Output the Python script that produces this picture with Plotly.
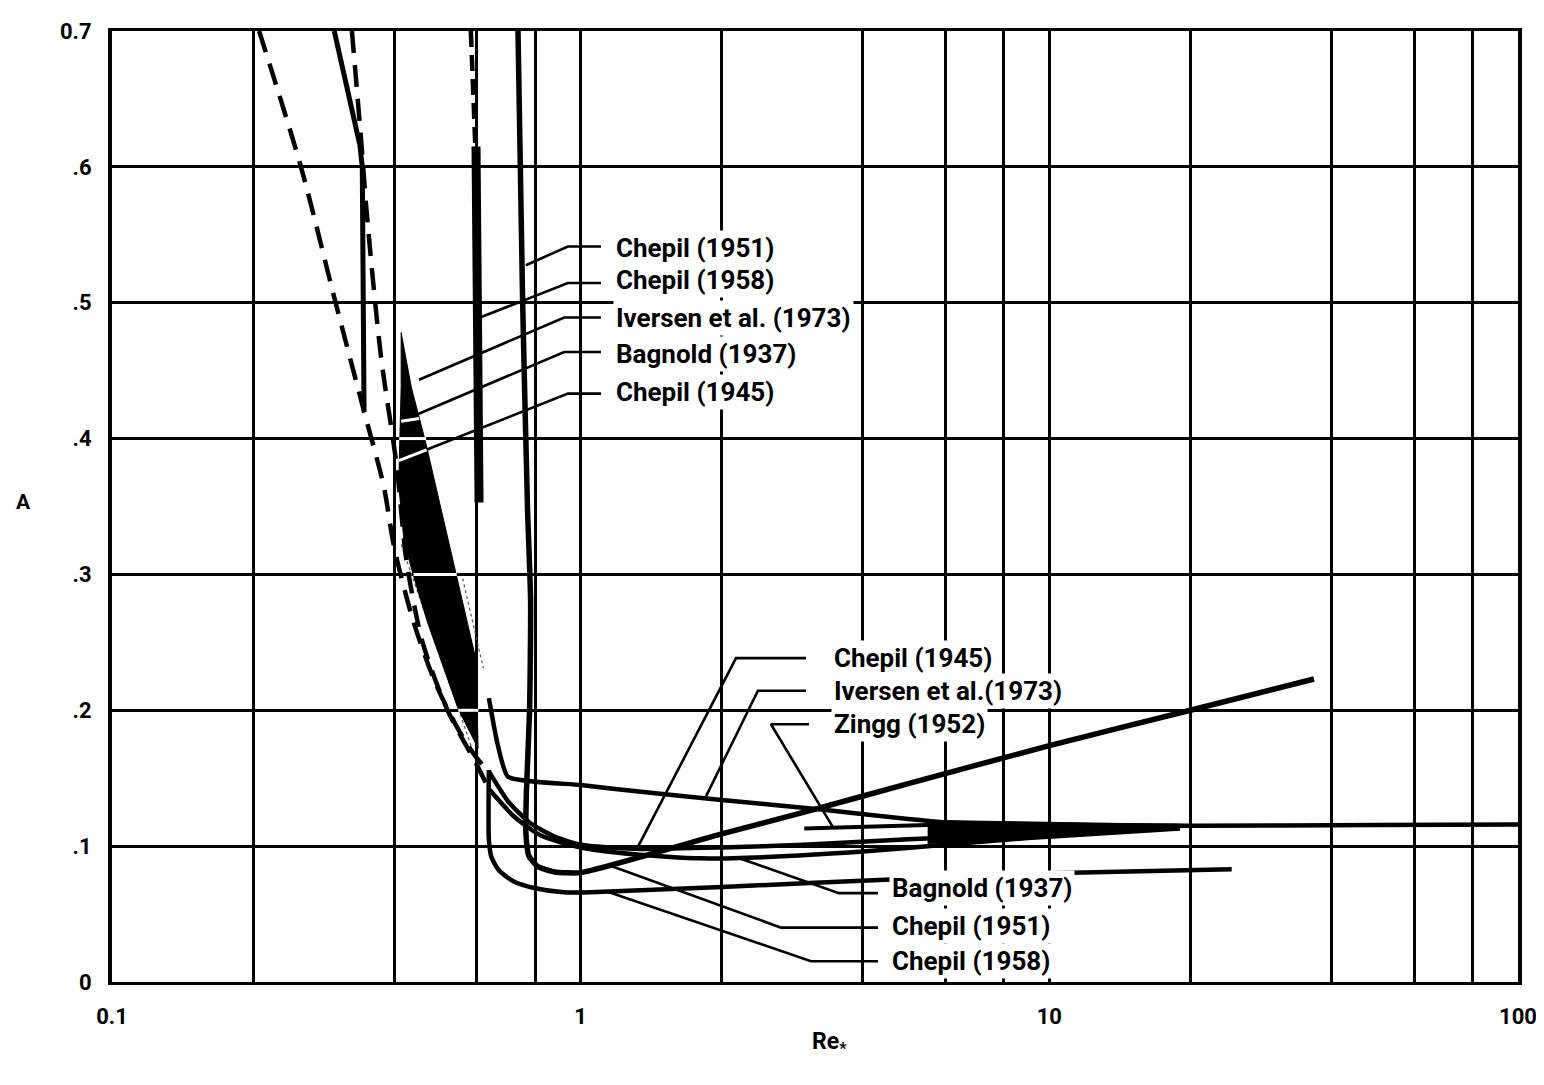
import math
import plotly.graph_objects as go

# ---------------- data ----------------
x_major = [0.1, 1, 10, 100]
x_major_text = ["0.1", "1", "10", "100"]
x_minor = [0.2, 0.4, 0.6, 0.8, 2, 4, 6, 8, 20, 40, 60, 80]
y_tickvals = [0, 0.1, 0.2, 0.3, 0.4, 0.5, 0.6, 0.7]
y_ticktext = ["0", ".1", ".2", ".3", ".4", ".5", ".6", "0.7"]

# Chepil (1945): dashed extrapolation + solid curve
chepil45_dash_x = [0.206, 0.253, 0.30, 0.345, 0.38, 0.40, 0.44, 0.49, 0.55, 0.60, 0.637]
chepil45_dash_y = [0.70, 0.60, 0.50, 0.42, 0.365, 0.32, 0.265, 0.22, 0.185, 0.165, 0.155]
chepil45_x = [0.637, 0.70, 0.78, 0.88, 1.0, 1.3, 2.0, 3.0, 5.0, 8.0, 12, 19]
chepil45_y = [0.155, 0.133, 0.117, 0.107, 0.101, 0.098, 0.099, 0.101, 0.105, 0.108, 0.111, 0.114]

# Bagnold (1937): dashed extrapolation + solid curve
bagnold_dash_x = [0.325, 0.34, 0.35, 0.375, 0.405, 0.425, 0.46, 0.52, 0.60, 0.637]
bagnold_dash_y = [0.70, 0.62, 0.564, 0.46, 0.38, 0.31, 0.25, 0.20, 0.16, 0.142]
bagnold_x = [0.637, 0.72, 0.82, 1.0, 1.3, 1.8, 2.5, 4.0, 6.0, 9.0, 19]
bagnold_y = [0.142, 0.122, 0.108, 0.099, 0.094, 0.091, 0.092, 0.096, 0.101, 0.106, 0.113]

# steep solid segment near Re* = 0.3
steep_x = [0.298, 0.338, 0.342, 0.345]
steep_y = [0.70, 0.616, 0.60, 0.42]

# Chepil (1951)
chepil51_x = [0.735, 0.752, 0.77, 0.782, 0.778, 0.766, 0.764, 0.775, 0.81, 0.88, 1.0,
              2.0, 3.0, 5.0, 10, 20, 36.7]
chepil51_y = [0.70, 0.50, 0.35, 0.28, 0.20, 0.14, 0.11, 0.093, 0.085, 0.081, 0.0805,
              0.109, 0.125, 0.146, 0.174, 0.200, 0.223]

# Chepil (1958)
chepil58_dash_x = [0.583, 0.596]
chepil58_dash_y = [0.70, 0.615]
chepil58_bar_x = [0.598, 0.607]
chepil58_bar_y = [0.615, 0.353]
chepil58_x = [0.637, 0.637, 0.645, 0.67, 0.72, 0.80, 0.92, 1.05, 2.0, 5.0, 10, 24.5]
chepil58_y = [0.156, 0.105, 0.092, 0.082, 0.074, 0.069, 0.066, 0.066, 0.070, 0.076, 0.080, 0.083]

# Iversen et al. (1973): shaded wedge + curve
iversen_wedge_x = [0.414, 0.435, 0.467, 0.542, 0.598, 0.604, 0.548, 0.472, 0.445, 0.420, 0.409, 0.414, 0.414]
iversen_wedge_y = [0.478, 0.438, 0.397, 0.300, 0.237, 0.172, 0.201, 0.264, 0.293, 0.324, 0.366, 0.438, 0.478]
iversen_x = [0.637, 0.665, 0.70, 1.0, 1.345, 2.0, 3.26, 5.0, 6.2, 8.0, 10, 20, 50, 100]
iversen_y = [0.209, 0.175, 0.151, 0.145, 0.140, 0.134, 0.127, 0.120, 0.117, 0.116, 0.1155, 0.115, 0.1155, 0.116]

# Zingg (1952)
zingg_x = [3.0, 4.5, 6.0, 9.0, 13, 19]
zingg_y = [0.113, 0.115, 0.116, 0.116, 0.115, 0.115]

# converging band of curves
band_x = [5.5, 8.0, 12, 19, 19, 12, 8.0, 5.5]
band_y = [0.119, 0.118, 0.117, 0.116, 0.113, 0.108, 0.104, 0.102]

# faint thin lines
thin1_x = [0.414, 0.60]
thin1_y = [0.322, 0.162]
thin2_x = [0.56, 0.62]
thin2_y = [0.297, 0.231]

# labels and leader lines
upper_labels = ["Chepil (1951)", "Chepil (1958)", "Iversen et al. (1973)", "Bagnold (1937)", "Chepil (1945)"]
upper_label_y = [0.540, 0.5167, 0.489, 0.462, 0.4346]
upper_label_x = 1.172
upper_leaders = [
    ([1.105, 0.939, 0.764], [0.5414, 0.5414, 0.5276]),
    ([1.105, 0.939, 0.61], [0.5145, 0.5145, 0.4891]),
    ([1.105, 0.922, 0.452], [0.4891, 0.4891, 0.4433]),
    ([1.105, 0.922, 0.414], [0.4637, 0.4637, 0.4128]),
    ([1.105, 0.939, 0.409], [0.4331, 0.4331, 0.3837]),
]
white_leader_parts = [
    ([0.452, 0.414], [0.4147, 0.4128]),
    ([0.469, 0.409], [0.3917, 0.3837]),
]
wedge_grid_cuts = [([0.41, 0.468], [0.4, 0.4]), ([0.44, 0.544], [0.3, 0.3]), ([0.548, 0.605], [0.2, 0.2])]

mid_labels = ["Chepil (1945)", "Iversen et al.(1973)", "Zingg (1952)"]
mid_label_y = [0.2384, 0.2144, 0.1897]
mid_label_x = 3.42
mid_leaders = [
    ([3.025, 2.145, 1.319], [0.2384, 0.2384, 0.0981]),
    ([3.025, 2.389, 1.851], [0.2144, 0.2144, 0.1366]),
    ([3.07, 2.547, 3.453], [0.1897, 0.1897, 0.114]),
]

low_labels = ["Bagnold (1937)", "Chepil (1951)", "Chepil (1958)"]
low_label_y = [0.069, 0.0414, 0.0153]
low_label_x = 4.55
low_leaders = [
    ([4.31, 3.557, 2.165], [0.0654, 0.0654, 0.0915]),
    ([4.31, 2.676, 1.15], [0.040, 0.040, 0.086]),
    ([4.31, 3.10, 1.13], [0.0153, 0.0153, 0.067]),
]

# ---------------- figure ----------------
FONT = "Roboto, Arial, sans-serif"
fig = go.Figure()


def add(x, y, width=4.5, dash="solid", color="black", shape="linear", smoothing=0.8, fill=None):
    kw = dict(x=x, y=y, mode="lines", showlegend=False, hoverinfo="skip",
              line=dict(color=color, width=width, dash=dash, shape=shape))
    if shape == "spline":
        kw["line"]["smoothing"] = smoothing
    if fill:
        kw["fill"] = fill
        kw["fillcolor"] = color
    fig.add_trace(go.Scatter(**kw))


add(thin1_x, thin1_y, width=1.2, dash="dot", color="#555")
add(thin2_x, thin2_y, width=1.2, dash="dot", color="#555")

add(iversen_wedge_x, iversen_wedge_y, width=1, fill="toself")
for cx, cy in wedge_grid_cuts:
    add(cx, cy, width=3, color="white")

add(chepil45_dash_x, chepil45_dash_y, width=4.5, dash="22px,12px", shape="spline")
add(bagnold_dash_x, bagnold_dash_y, width=4.5, dash="22px,12px", shape="spline")
add(chepil58_dash_x, chepil58_dash_y, width=4.5, dash="16px,8px")

add(steep_x, steep_y, width=5)
add(chepil58_bar_x, chepil58_bar_y, width=9)
add(chepil45_x, chepil45_y, width=4.5, shape="spline", smoothing=0.6)
add(bagnold_x, bagnold_y, width=4.5, shape="spline", smoothing=0.6)
add(chepil51_x, chepil51_y, width=5.5, shape="spline", smoothing=0.5)
add(chepil58_x, chepil58_y, width=4.5, shape="spline", smoothing=0.6)
add(iversen_x, iversen_y, width=4.5, shape="spline", smoothing=0.5)
add(zingg_x, zingg_y, width=4)
add(band_x, band_y, width=1, fill="toself")

for lx, ly in upper_leaders + mid_leaders + low_leaders:
    add(lx, ly, width=2.6)
for lx, ly in white_leader_parts:
    add(lx, ly, width=3, color="white")

annotations = []


def label(text, x, y):
    annotations.append(dict(x=math.log10(x), y=y, xref="x", yref="y", text=text,
                            showarrow=False, xanchor="left", yanchor="middle",
                            bgcolor="white", borderpad=2,
                            font=dict(family=FONT, size=26, color="black", weight="bold")))


for t, y in zip(upper_labels, upper_label_y):
    label(t, upper_label_x, y)
for t, y in zip(mid_labels, mid_label_y):
    label(t, mid_label_x, y)
for t, y in zip(low_labels, low_label_y):
    label(t, low_label_x, y)

annotations.append(dict(x=-0.07, y=0.505, xref="paper", yref="paper", text="A",
                        showarrow=False, font=dict(family=FONT, size=21, color="black", weight="bold")))
annotations.append(dict(x=0.51, y=-0.082, xref="paper", yref="paper", text="Re<sub>*</sub>",
                        showarrow=False, font=dict(family=FONT, size=23, color="black", weight="bold")))

fig.update_layout(
    width=1544, height=1085,
    margin=dict(l=104, r=34, t=11, b=111),
    paper_bgcolor="white", plot_bgcolor="white",
    font=dict(family=FONT, size=21, color="black", weight="bold"),
    annotations=annotations,
    showlegend=False,
)
fig.update_xaxes(type="log", range=[-1, 2], tickvals=x_major, ticktext=x_major_text,
                 showgrid=True, gridcolor="black", gridwidth=3, zeroline=False,
                 minor=dict(tickvals=x_minor, showgrid=True, gridcolor="black", gridwidth=3, ticks=""),
                 showline=True, linecolor="black", linewidth=3, mirror=True,
                 ticks="", ticklabelstandoff=13,
                 tickfont=dict(family=FONT, size=22, color="black", weight="bold"))
fig.update_yaxes(range=[0, 0.7], tickvals=y_tickvals, ticktext=y_ticktext,
                 showgrid=True, gridcolor="black", gridwidth=3, zeroline=False,
                 showline=True, linecolor="black", linewidth=4, mirror=True,
                 ticks="", ticklabelstandoff=12,
                 tickfont=dict(family=FONT, size=22, color="black", weight="bold"))

fig.write_html("out.html")
